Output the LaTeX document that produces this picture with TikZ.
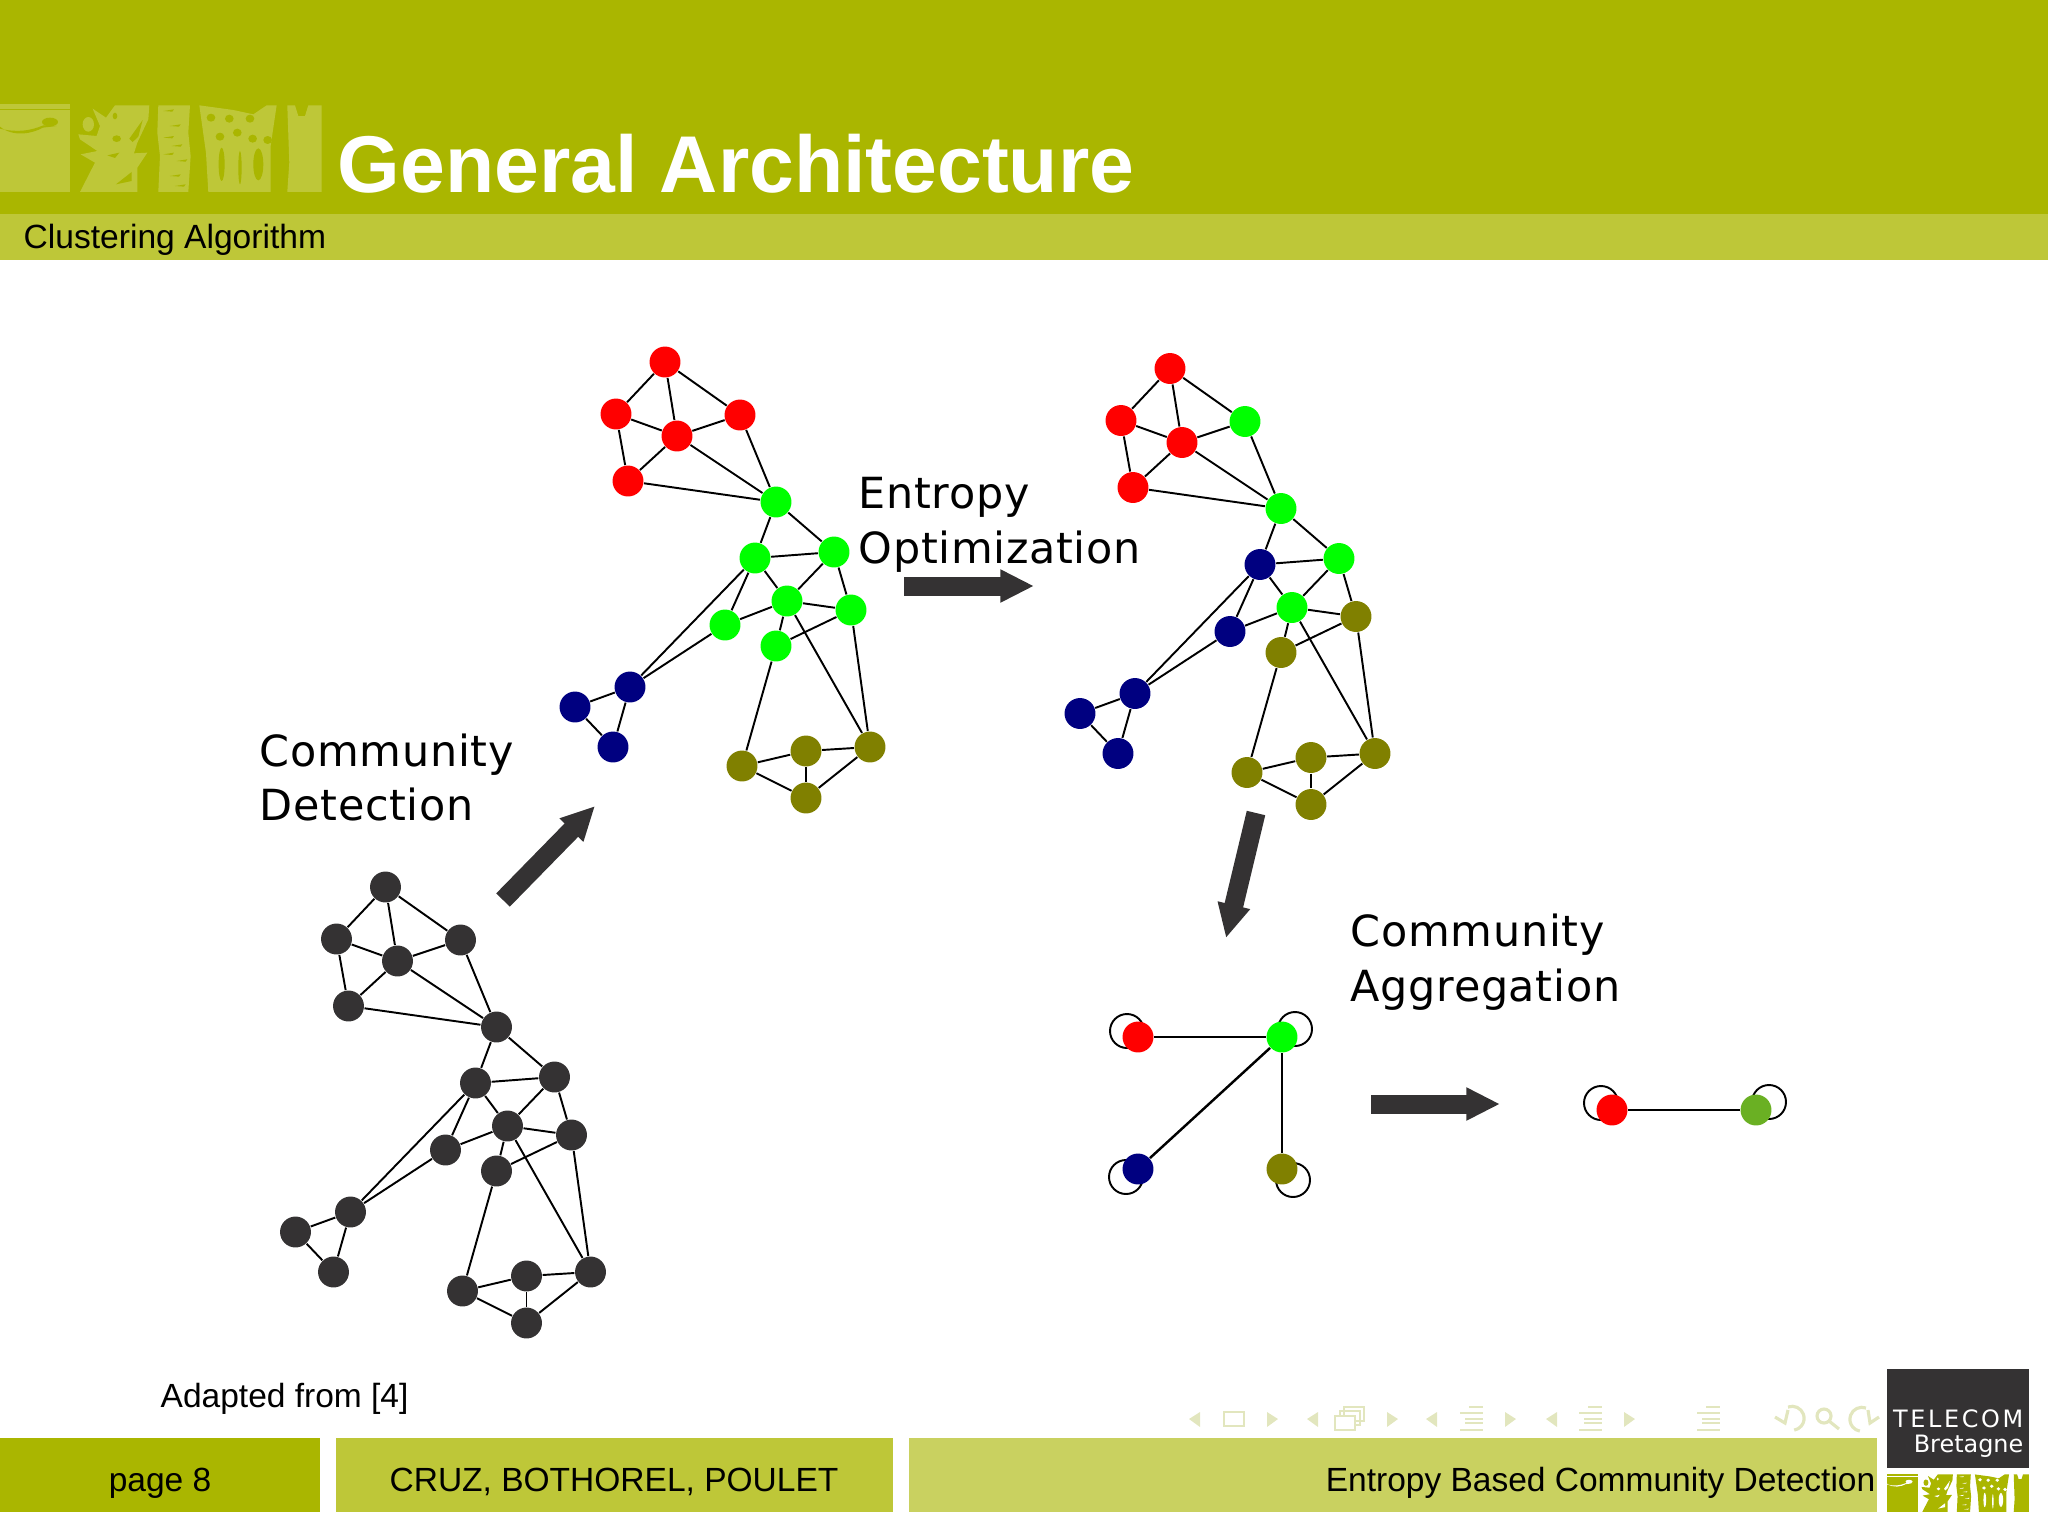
\documentclass[tikz,border=0pt]{standalone}
\usepackage{fontspec}
\setmainfont{Liberation Sans}
\newfontfamily\dejavu{DejaVu Sans}
\newfontfamily\dejaspaced[LetterSpace=1.6]{DejaVu Sans}
\newfontfamily\dejalogo[LetterSpace=11]{DejaVu Sans}
\usetikzlibrary{arrows.meta,backgrounds}
\definecolor{bandmain}{HTML}{AAB600}
\definecolor{bandmid}{HTML}{BEC738}
\definecolor{bandpale}{HTML}{C9D160}
\definecolor{navpale}{HTML}{E2E6BE}
\definecolor{darknode}{HTML}{343233}
\definecolor{mossgreen}{HTML}{6AB023}
\definecolor{commnavy}{HTML}{000080}
\definecolor{commolive}{HTML}{808000}
\tikzset{
    vertex/.style={circle, inner sep=0pt, minimum size=8.8pt},
    link/.style={line width=0.55pt},
    heavylink/.style={line width=0.7pt},
    selfloop/.style={line width=0.55pt},
    bigarrow/.style={line width=5.4pt, darknode, -{Triangle[length=9.6pt, width=8.8pt]}},
    caption/.style={anchor=base west, inner sep=0pt, font=\dejaspaced\fontsize{12.2pt}{14pt}\selectfont},
    foottext/.style={anchor=base, inner sep=0pt, font=\fontsize{9.53pt}{11pt}\selectfont},
    navicon/.style={navpale, line width=0.7pt},
}
% 4-colour network: prefix, shift, then colours of its node groups
\newcommand{\commgraph}[9]{
    \begin{scope}[shift={#2}, name prefix=#1-]
        \foreach \nd/\x/\y in {a/665/362, b/616/414, d/677/436, e/628/481}
            \node[vertex, fill=#3] (\nd) at (\x,\y) {};
        \node[vertex, fill=#4] (c) at (740,415) {};
        \foreach \nd/\x/\y in {f/776/502, h/834/552, i/787/601}
            \node[vertex, fill=#5] (\nd) at (\x,\y) {};
        \foreach \nd/\x/\y in {g/755/558, k/725/625}
            \node[vertex, fill=#6] (\nd) at (\x,\y) {};
        \foreach \nd/\x/\y in {j/851/610, l/776/646}
            \node[vertex, fill=#7] (\nd) at (\x,\y) {};
        \foreach \nd/\x/\y in {m/630/687, n/575/707, o/613/747}
            \node[vertex, fill=#8] (\nd) at (\x,\y) {};
        \foreach \nd/\x/\y in {p/742/766, q/806/751, r/870/747, s/806/798}
            \node[vertex, fill=#9] (\nd) at (\x,\y) {};
        \foreach \from/\to in {a/b, a/d, a/c, b/d, b/e, d/c, d/e, d/f, c/f, e/f,
                f/g, f/h, g/h, g/i, h/i, h/j, i/j, i/k, i/l, j/l, g/k, g/m, k/m,
                i/r, j/r, l/p, m/n, m/o, n/o, p/q, p/s, q/r, q/s, r/s}
            \draw[link] (\from) -- (\to);
    \end{scope}
}
% school logo: #1 placement, #2 strip colour, #3 colour of the holes
\newcommand{\schoollogo}[3]{
    \begin{scope}[#1]
        \fill[#2] (0,25) rectangle (210,288);
        \fill[#3] (0,38) rectangle (210,43);
        \fill[#3] (0,92) .. controls (40,125) and (100,112) .. (128,95) -- (170,90)
            -- (130,88) .. controls (90,105) and (50,110) .. (0,98) -- cycle;
        \fill[#3] (150,78) ellipse (24 and 13);
        \fill[#2] (235,115) -- (290,120) -- (300,90) -- (278,38) -- (318,65) -- (345,28)
            -- (448,28) -- (445,70) -- (412,140) -- (402,172) -- (442,170) -- (412,215)
            -- (412,288) -- (240,288) -- (285,200) -- (242,175) -- (292,165)
            -- (240,130) -- cycle;
        \fill[#2] (265,85) ellipse (17 and 22);
        \fill[#3] (388,128) -- (428,72) -- (415,122) -- (398,138) -- cycle;
        \fill[#3] (350,128) ellipse (13 and 10);
        \fill[#3] (345,60) ellipse (7 and 10);
        \fill[#3] (348,265) -- (395,228) -- (395,255) -- cycle;
        \fill[#3] (322,178) -- (358,170) -- (345,186) -- cycle;
        \fill[#2] (475,28) -- (570,28) -- (565,110) -- (572,180) -- (565,288) -- (475,288)
            -- (480,180) -- (472,110) -- cycle;
        \foreach \x/\y in {490/45, 510/90, 490/125, 515/150, 490/175, 530/195, 510/240, 525/270}
            \fill[#3] (\x,\y) -- ++(32,-5) -- ++(-5,7) -- cycle;
        \fill[#2] (598,28) -- (700,42) -- (760,55) -- (800,28) -- (830,28) -- (812,150)
            -- (812,288) -- (625,288) -- (618,170) -- cycle;
        \foreach \x/\y in {633/65, 688/68, 750/68, 712/110, 660/122, 758/128, 803/132}
            \fill[#3] (\x,\y) ellipse (13 and 12);
        \fill[#3] (665,205) ellipse (9 and 50);
        \fill[#3] (775,205) ellipse (15 and 48);
        \fill[#3] (720,215) ellipse (5 and 50);
        \fill[#2] (862,28) -- (885,28) -- (895,60) -- (915,60) -- (925,28) -- (965,28)
            -- (965,288) -- (862,288) -- (868,200) -- cycle;
    \end{scope}
}
\begin{document}
\begin{tikzpicture}[x=0.01cm, y=-0.01cm]
    \useasboundingbox (0,0) rectangle (2048,1536);

    % header
    \fill[bandmain] (0,0) rectangle (2048,214);
    \fill[bandmid] (0,214) rectangle (2048,260);
    \schoollogo{shift={(0,96)}, xscale=0.3333, yscale=0.3333}{bandmid}{bandmain}
    \node[anchor=base west, inner sep=0pt, text=white, font=\bfseries\fontsize{22.9pt}{26pt}\selectfont] (title) at (337,192) {General Architecture};
    \node[anchor=base west, inner sep=0pt, font=\fontsize{9.55pt}{11pt}\selectfont] (section) at (23,248) {Clustering Algorithm};

    % footer
    \fill[bandmain] (0,1438) rectangle (320,1512);
    \fill[bandmid] (336,1438) rectangle (893,1512);
    \fill[bandpale] (909,1438) rectangle (1877,1512);
    \node[foottext] (page) at (160,1491) {page 8};
    \node[foottext] (authors) at (614,1491) {CRUZ, BOTHOREL, POULET};
    \node[foottext, anchor=base east] (talk) at (1876,1491) {Entropy Based Community Detection};
    \node[foottext, anchor=base west] (credit) at (160,1407) {Adapted from [4]};

    % logos
    \fill[darknode] (1887,1369) rectangle (2029,1468);
    \node[anchor=base east, inner sep=0pt, text=white, font=\dejalogo\fontsize{6.8pt}{8pt}\selectfont] (telecom) at (2024,1427) {TELECOM};
    \node[anchor=base east, inner sep=0pt, text=white, font=\dejavu\fontsize{6.8pt}{8pt}\selectfont] (bretagne) at (2024,1452) {Bretagne};
    \schoollogo{shift={(1887,1470.4)}, xscale=0.147, yscale=0.144}{bandmain}{white}

    % navigation symbols
    \foreach \x in {1189,1307,1426,1546}
        \fill[navpale] (\x,1419) -- (\x+11,1412) -- (\x+11,1427) -- cycle;
    \foreach \x in {1267,1387,1505,1624}
        \fill[navpale] (\x+11,1419) -- (\x,1412) -- (\x,1427) -- cycle;
    \draw[navicon] (1224,1412) rectangle (1244,1426);
    \draw[navicon] (1344,1407) rectangle (1364,1421);
    \draw[navicon] (1340,1411) rectangle (1360,1425);
    \fill[white] (1335,1416) rectangle (1355,1430);
    \draw[navicon] (1335,1416) rectangle (1355,1430);
    \foreach \x in {1460,1579,1697} {
        \foreach \y/\w in {1407/14, 1413/23, 1419/18, 1423/18, 1430/23}
            \fill[navpale] (\x+23-\w,\y-1.2) rectangle (\x+23,\y+1.2);
    }
    \draw[navicon, line width=0.9pt] (1788,1407) arc (-110:80:12);
    \draw[navicon, line width=0.9pt] (1775,1417) -- (1785,1423) -- (1788,1410);
    \draw[navicon, line width=0.9pt] (1824,1416) circle (7) (1829,1421) -- (1839,1429);
    \draw[navicon, line width=0.9pt] (1866,1408) arc (-70:-260:12);
    \draw[navicon, line width=0.9pt] (1879,1417) -- (1870,1423) -- (1868,1410);

    % three stages of the network
    \commgraph{raw}{(-279.5,525)}{darknode}{darknode}{darknode}{darknode}{darknode}{darknode}{darknode}
    \commgraph{found}{(0,0)}{red}{red}{green}{green}{green}{commnavy}{commolive}
    \commgraph{tuned}{(505,6.5)}{red}{green}{green}{commnavy}{commolive}{commnavy}{commolive}

    % aggregated communities
    \node[vertex, fill=red] (cr) at (1138,1037) {};
    \node[vertex, fill=green] (cg) at (1282,1037) {};
    \node[vertex, fill=commnavy] (cb) at (1138,1169) {};
    \node[vertex, fill=commolive] (co) at (1282,1169) {};
    \node[vertex, fill=red] (mr) at (1612,1110) {};
    \node[vertex, fill=mossgreen] (mg) at (1756,1110) {};
    \draw[heavylink] (cr) -- (cg);
    \draw[heavylink] (cb) -- (cg);
    \draw[heavylink] (co) -- (cg);
    \draw[heavylink] (mr) -- (mg);
    \begin{scope}[on background layer]
        \foreach \nd/\dx/\dy in {cr/-11/-6, cg/13/-8, cb/-12/8, co/11/11, mr/-11/-7, mg/13/-8}
            \draw[selfloop] ([shift={(\dx,\dy)}]\nd.center) circle (17);
    \end{scope}

    % arrows between stages
    \coordinate (a1s) at (503,900);
    \coordinate (a1e) at (595,806);
    \coordinate (a2s) at (904,586);
    \coordinate (a2e) at (1034,586);
    \coordinate (a3s) at (1256,813);
    \coordinate (a3e) at (1226,938);
    \coordinate (a4s) at (1371,1104);
    \coordinate (a4e) at (1500,1104);
    \draw[bigarrow] (a1s) -- (a1e);
    \draw[bigarrow] (a2s) -- (a2e);
    \draw[bigarrow] (a3s) -- (a3e);
    \draw[bigarrow] (a4s) -- (a4e);

    % stage captions
    \node[caption] (det1) at (259,766) {Community};
    \node[caption] (det2) at (259,820) {Detection};
    \node[caption] (ent1) at (858,508) {Entropy};
    \node[caption] (ent2) at (858,563) {Optimization};
    \node[caption] (agg1) at (1350,946) {Community};
    \node[caption] (agg2) at (1350,1001) {Aggregation};
\end{tikzpicture}
\end{document}
